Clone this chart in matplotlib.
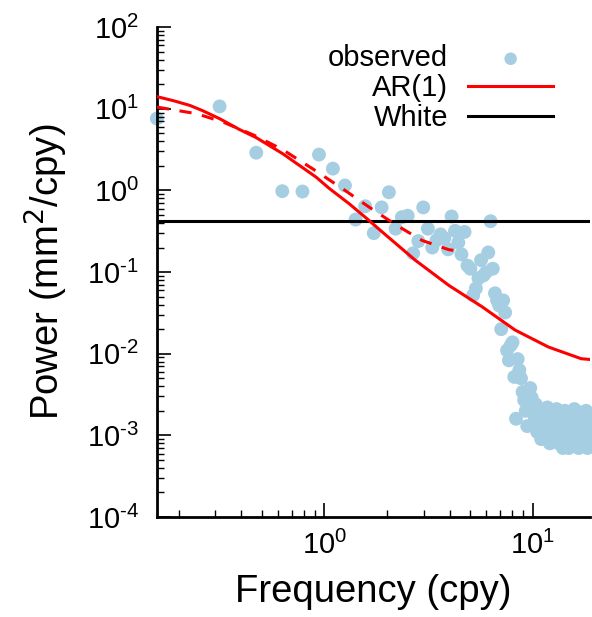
import numpy as np
import matplotlib
matplotlib.use('Agg')
import matplotlib.pyplot as plt
from matplotlib.ticker import LogLocator, NullFormatter, FuncFormatter

plt.rcParams['font.family'] = ['Liberation Sans', 'DejaVu Sans']
plt.rcParams['axes.unicode_minus'] = False

# observed spectrum (cpy, mm^2/cpy)
freq = [0.157, 0.314, 0.471, 0.628, 0.785, 0.942, 1.099, 1.256, 1.413, 1.57,
        1.727, 1.884, 2.041, 2.198, 2.355, 2.512, 2.669, 2.826, 2.983, 3.14,
        3.297, 3.454, 3.611, 3.768, 3.925, 4.082, 4.239, 4.396, 4.553, 4.71,
        4.867, 5.024, 5.181, 5.338, 5.495, 5.652, 5.809, 5.966, 6.123, 6.28,
        6.437, 6.594, 6.751, 6.908, 7.065, 7.222, 7.379, 7.536, 7.693, 7.85,
        8.007, 8.164, 8.321, 8.478, 8.635, 8.792, 8.949, 9.106, 9.263, 9.42,
        9.577, 9.734, 9.891, 10.048, 10.205, 10.362, 10.519, 10.676, 10.833, 10.99,
        11.147, 11.304, 11.461, 11.618, 11.775, 11.932, 12.089, 12.246, 12.403, 12.56,
        12.717, 12.874, 13.031, 13.188, 13.345, 13.502, 13.659, 13.816, 13.973, 14.13,
        14.287, 14.444, 14.601, 14.758, 14.915, 15.072, 15.229, 15.386, 15.543, 15.7,
        15.857, 16.014, 16.171, 16.328, 16.485, 16.642, 16.799, 16.956, 17.113, 17.27,
        17.427, 17.584, 17.741, 17.898, 18.055, 18.212, 18.369, 18.526, 18.683, 18.84]
power = [7.6, 10.7, 2.9, 0.98, 0.97, 2.75, 1.85, 1.15, 0.44, 0.64,
         0.30, 0.62, 0.95, 0.34, 0.47, 0.49, 0.17, 0.24, 0.62, 0.34,
         0.20, 0.245, 0.29, 0.26, 0.19, 0.48, 0.32, 0.23, 0.165, 0.31,
         0.12, 0.11, 0.052, 0.063, 0.084, 0.14, 0.091, 0.099, 0.174, 0.42,
         0.11, 0.055, 0.045, 0.039, 0.020, 0.045, 0.032, 0.011, 0.0083, 0.0127,
         0.0138, 0.0052, 0.0016, 0.0086, 0.0063, 0.0050, 0.0034, 0.0027, 0.0020, 0.0013,
         0.0023, 0.0038, 0.0029, 0.0019, 0.0015, 0.0024, 0.0011, 0.0017, 0.0021, 0.0009,
         0.0013, 0.0018, 0.0010, 0.0016, 0.0022, 0.0012, 0.0008, 0.0014, 0.0019, 0.0011,
         0.0009, 0.0016, 0.0021, 0.0013, 0.0008, 0.0010, 0.0017, 0.0012, 0.0007, 0.0015,
         0.0020, 0.0011, 0.0009, 0.0014, 0.0007, 0.0018, 0.0012, 0.0010, 0.0016, 0.0008,
         0.0021, 0.0013, 0.0009, 0.0011, 0.0017, 0.0007, 0.0014, 0.0010, 0.0019, 0.0012,
         0.0008, 0.0015, 0.0011, 0.0009, 0.0020, 0.0013, 0.0007, 0.0016, 0.0010, 0.0012]

# AR(1) fit
ar_freq = [0.157, 0.19, 0.226, 0.26, 0.315, 0.39, 0.472, 0.632, 0.913, 1.056,
           1.316, 1.582, 1.899, 2.74, 3.96, 5.71, 8.24, 11.9, 14.5, 17.1, 18.9]
ar_power = [14.1, 12.5, 11.0, 9.5, 7.54, 5.6, 4.42, 2.81, 1.455, 1.058,
            0.687, 0.463, 0.309, 0.139, 0.0687, 0.0377, 0.0195, 0.0121, 0.0101,
            0.0087, 0.0085]

# dashed red segment
dash_freq = [0.157, 0.244, 0.327, 0.463, 0.632, 0.879, 1.223, 1.64, 2.2, 2.95, 3.96, 4.58]
dash_power = [10.5, 8.7, 6.86, 4.71, 3.15, 1.84, 1.05, 0.625, 0.38, 0.244, 0.188, 0.179]

white_level = 0.42


def pow10_label(v, pos):
    e = int(round(np.log10(v)))
    s = str(e).replace('-', '\u2010')
    return r'$\mathdefault{10^{%s}}$' % s


fig = plt.figure(figsize=(5.92, 6.17), dpi=100)
ax = fig.add_axes([0.265, 0.162, 0.732, 0.794])

ax.scatter(freq, power, s=100, color='#a6cee3', edgecolors='none',
           label='observed', zorder=1, clip_on=False)
ax.plot(ar_freq, ar_power, color='red', lw=2.2, label='AR(1)', zorder=3)
ax.plot(dash_freq, dash_power, color='red', lw=2.2, dashes=(4, 3.5), zorder=3)
ax.axhline(white_level, color='black', lw=2.2, label='White', zorder=2)

ax.set_xscale('log')
ax.set_yscale('log')
ax.set_xlim(0.157, 18.9)
ax.set_ylim(1e-4, 1e2)
ax.set_yticks([1e-4, 1e-3, 1e-2, 1e-1, 1e0, 1e1, 1e2])
ax.yaxis.set_major_formatter(FuncFormatter(pow10_label))
ax.xaxis.set_major_formatter(FuncFormatter(pow10_label))
ax.yaxis.set_minor_locator(LogLocator(base=10, subs=np.arange(2, 10), numticks=20))
ax.yaxis.set_minor_formatter(NullFormatter())
ax.xaxis.set_minor_formatter(NullFormatter())

for side in ['top', 'right']:
    ax.spines[side].set_visible(False)
for side in ['left', 'bottom']:
    ax.spines[side].set_linewidth(2)

ax.tick_params(which='major', direction='in', length=10, width=1.2,
               labelsize=21, pad=10)
ax.tick_params(axis='y', which='major', pad=13)
ax.tick_params(which='minor', direction='in', length=5, width=1)

ax.set_xlabel('Frequency (cpy)', fontsize=27.5, labelpad=10)
ax.set_ylabel('Power (mm$^2$/cpy)', fontsize=27.5, labelpad=12)

ax.legend(loc='upper right', bbox_to_anchor=(0.934, 0.928),
          bbox_transform=fig.transFigure, frameon=False, fontsize=21,
          markerfirst=False, handlelength=2.9, handletextpad=0.7,
          labelspacing=0.06, borderpad=0, borderaxespad=0,
          scatterpoints=1, markerscale=0.9)

fig.savefig('out.png', dpi=100)
